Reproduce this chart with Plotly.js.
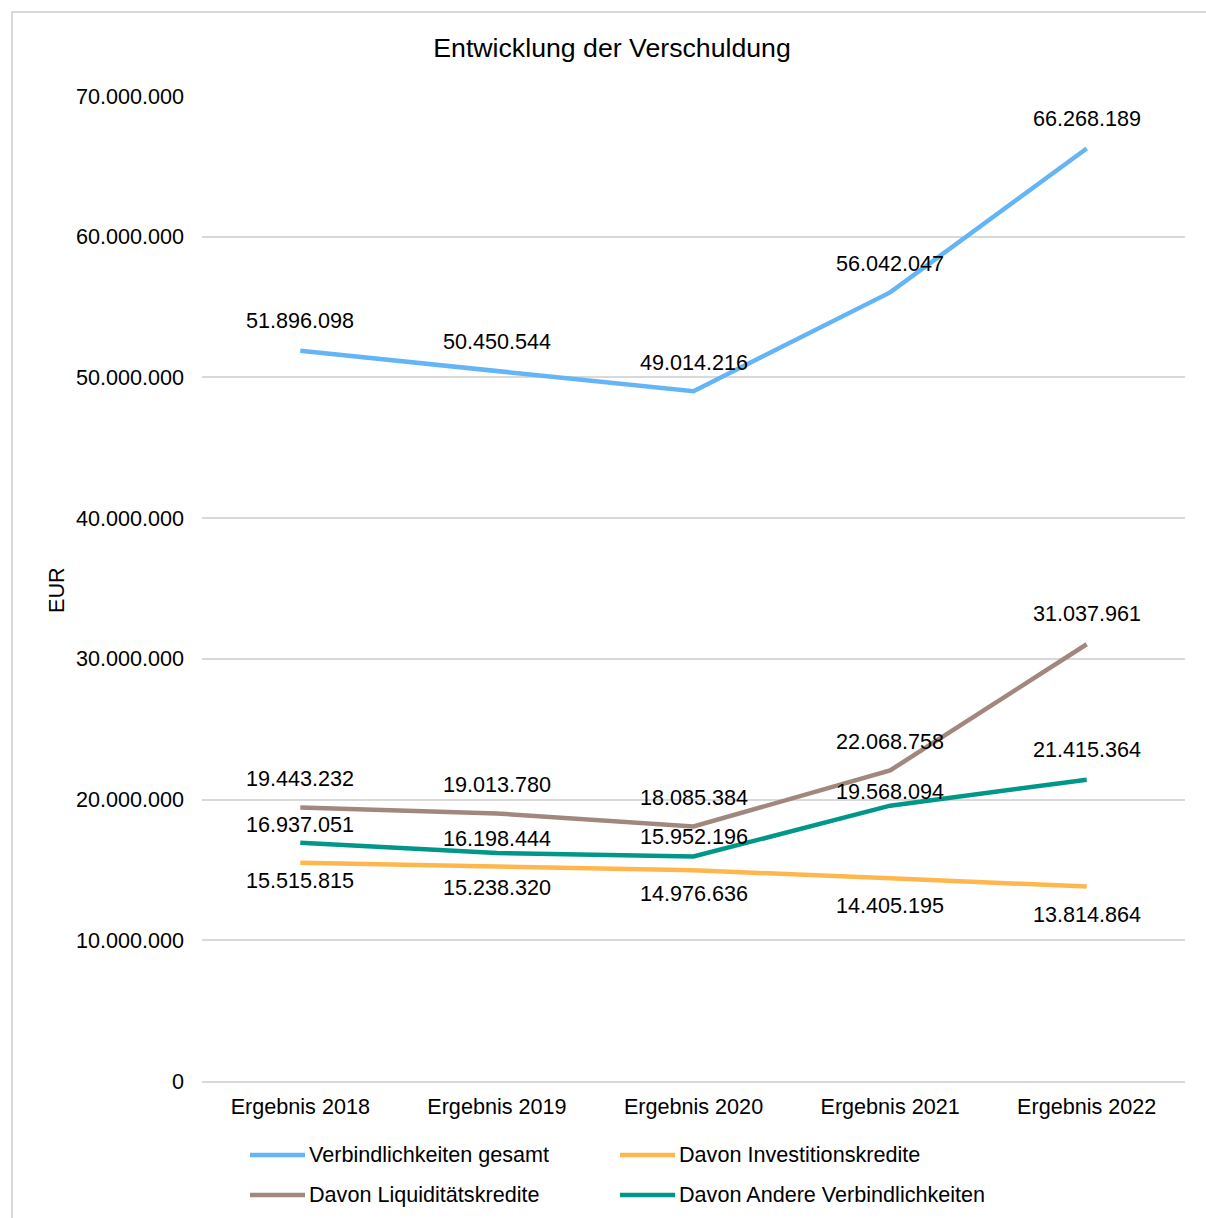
<!DOCTYPE html>
<html>
<head>
<meta charset="utf-8">
<script src="https://cdn.plot.ly/plotly-3.0.1.min.js"></script>
<style>
  html, body { margin: 0; padding: 0; background: #ffffff; }
  #wrap { position: relative; width: 1206px; height: 1218px; overflow: hidden; background: #fff; }
  #frame { position: absolute; left: 11px; top: 11px; width: 1300px; height: 1300px;
           border-left: 2px solid #d9d9d9; border-top: 2px solid #d9d9d9; }
  #chart { position: absolute; left: 0; top: 0; width: 1206px; height: 1218px; }
</style>
</head>
<body>
<div id="wrap"><div id="frame"></div><div id="chart"></div></div>
<script>
// ---- Data ----
const categories = ['Ergebnis 2018', 'Ergebnis 2019', 'Ergebnis 2020', 'Ergebnis 2021', 'Ergebnis 2022'];
const gesamt      = [51896098, 50450544, 49014216, 56042047, 66268189];
const investition = [15515815, 15238320, 14976636, 14405195, 13814864];
const liquiditaet = [19443232, 19013780, 18085384, 22068758, 31037961];
const andere      = [16937051, 16198444, 15952196, 19568094, 21415364];
const seriesNames = ['Verbindlichkeiten gesamt', 'Davon Investitionskredite', 'Davon Liquiditätskredite', 'Davon Andere Verbindlichkeiten'];
const tickValues = [0, 10000000, 20000000, 30000000, 40000000, 50000000, 60000000, 70000000];
const tickLabels = ['0', '10.000.000', '20.000.000', '30.000.000', '40.000.000', '50.000.000', '60.000.000', '70.000.000'];

// ---- Style ----
const colors = ['#64B5F6', '#FFB74D', '#A1887F', '#009688'];
const FONT = 'Liberation Sans, Arial, sans-serif';
const FS = 21.6;
// label vertical offsets (px) per series / point
const labelShift = [
  [30, 30, 29, 29, 30],
  [-18, -21, -23, -27, -28],
  [29, 29, 29, 29, 31],
  [18, 15, 20, 14, 30]
];

function fmt(v) {
  return String(v).replace(/\B(?=(\d{3})+(?!\d))/g, '.');
}

const allSeries = [gesamt, investition, liquiditaet, andere];
const traces = allSeries.map((vals, i) => ({
  type: 'scatter', mode: 'lines',
  x: categories, y: vals, name: seriesNames[i],
  line: { color: colors[i], width: 4.5 },
  showlegend: false, hoverinfo: 'skip'
}));

const annotations = [];
allSeries.forEach((vals, i) => {
  vals.forEach((v, j) => {
    annotations.push({
      x: categories[j], y: v, xref: 'x', yref: 'y',
      text: fmt(v), showarrow: false,
      yshift: labelShift[i][j], xanchor: 'center', yanchor: 'middle',
      font: { family: FONT, size: FS, color: '#000' }
    });
  });
});

// Y axis title
annotations.push({
  xref: 'paper', yref: 'paper', x: -0.1475, y: 0.4985,
  text: 'EUR', textangle: -90, showarrow: false,
  xanchor: 'center', yanchor: 'middle',
  font: { family: FONT, size: FS, color: '#000' }
});

// Manual legend
const shapes = [];
const legPos = [
  { x0: 0.0488, x1: 0.1048, tx: 0.1069, y: -0.0751 },
  { x0: 0.4252, x1: 0.4812, tx: 0.4832, y: -0.0751 },
  { x0: 0.0488, x1: 0.1048, tx: 0.1069, y: -0.1157 },
  { x0: 0.4252, x1: 0.4812, tx: 0.4832, y: -0.1157 }
];
seriesNames.forEach((n, i) => {
  const p = legPos[i];
  shapes.push({ type: 'line', xref: 'paper', yref: 'paper', x0: p.x0, x1: p.x1, y0: p.y, y1: p.y,
    line: { color: colors[i], width: 4.5 } });
  annotations.push({ xref: 'paper', yref: 'paper', x: p.tx, y: p.y, text: n, showarrow: false,
    xanchor: 'left', yanchor: 'middle', font: { family: FONT, size: FS, color: '#000' } });
});

const layout = {
  width: 1206, height: 1218,
  paper_bgcolor: 'rgba(0,0,0,0)', plot_bgcolor: 'rgba(0,0,0,0)',
  margin: { l: 202, r: 21, t: 96, b: 137 },
  title: { text: 'Entwicklung der Verschuldung', x: 0.5075, xref: 'container', xanchor: 'center',
           y: 1 - 48 / 1218, yref: 'container', yanchor: 'middle',
           font: { family: FONT, size: 26.7, color: '#000' } },
  xaxis: { type: 'category', range: [-0.5, 4.5], showgrid: false, zeroline: false,
           showline: true, linecolor: '#d9d9d9', linewidth: 2, ticks: '',
           ticklabelstandoff: 5,
           tickfont: { family: FONT, size: FS, color: '#000' }, fixedrange: true },
  yaxis: { range: [0, 70000000], tickvals: tickValues, ticktext: tickLabels,
           showgrid: true, gridcolor: '#d9d9d9', gridwidth: 2, zeroline: false,
           showline: false, ticks: '', ticklabelstandoff: 17,
           tickfont: { family: FONT, size: FS, color: '#000' }, fixedrange: true },
  annotations: annotations,
  shapes: shapes,
  showlegend: false
};

Plotly.newPlot('chart', traces, layout, { staticPlot: true, displayModeBar: false });
</script>
</body>
</html>
